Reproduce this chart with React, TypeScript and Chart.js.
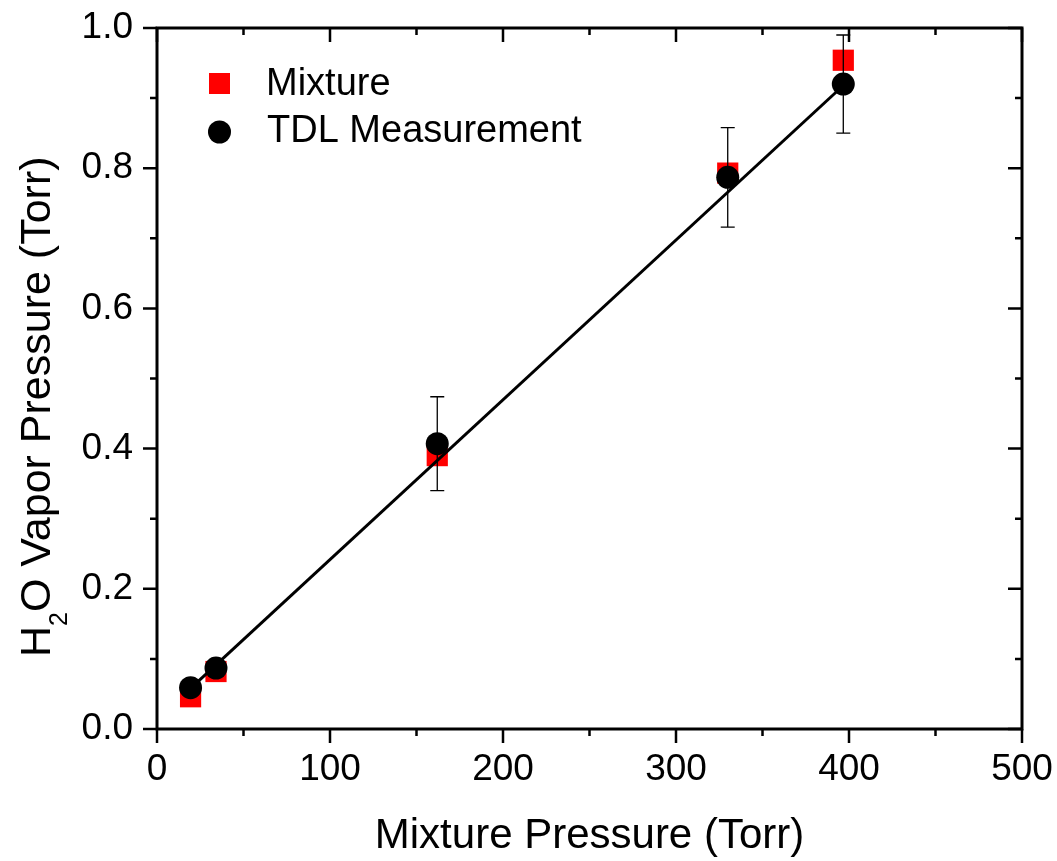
import React, { useEffect, useRef } from "react";
import { Chart, registerables } from "chart.js";

Chart.register(...registerables);

// ---- data ----
const pressures = [19.4, 34.1, 162.0, 329.9, 396.7];
const mixtureH2O = [0.046, 0.082, 0.39, 0.793, 0.954];
const tdlH2O = [0.059, 0.087, 0.407, 0.787, 0.92];
const tdlError = [0, 0, 0.067, 0.071, 0.07];
const fitX = [19.4, 396.7];
const fitY = [0.058, 0.918];
const xTicks = [0, 100, 200, 300, 400, 500];
const yTicks = [0, 0.2, 0.4, 0.6, 0.8, 1.0];
const seriesLabels = ["Mixture", "TDL Measurement"];
const xTitle = "Mixture Pressure (Torr)";
const yTitleParts = ["H", "2", "O Vapor Pressure (Torr)"];

const FONT = "'Liberation Sans', Arial, Helvetica, sans-serif";
const RED = "#ff0000";
const BLACK = "#000000";

const decorPlugin = {
  id: "decor",
  beforeDatasetDraw(chart: any, args: any) {
    if (args.index !== 1) return;
    const { ctx, scales } = chart;
    const x = scales.x;
    const y = scales.y;
    ctx.save();
    ctx.strokeStyle = BLACK;
    ctx.lineWidth = 1.3;
    pressures.forEach((p, i) => {
      const e = tdlError[i];
      if (!e) return;
      const px = x.getPixelForValue(p);
      const pt = y.getPixelForValue(tdlH2O[i] + e);
      const pb = y.getPixelForValue(tdlH2O[i] - e);
      ctx.beginPath();
      ctx.moveTo(px, pt);
      ctx.lineTo(px, pb);
      ctx.moveTo(px - 7, pt);
      ctx.lineTo(px + 7, pt);
      ctx.moveTo(px - 7, pb);
      ctx.lineTo(px + 7, pb);
      ctx.stroke();
    });
    ctx.restore();
  },
  afterDraw(chart: any) {
    const { ctx, chartArea, scales } = chart;
    const { left, right, top, bottom } = chartArea;
    const x = scales.x;
    const y = scales.y;
    ctx.save();
    ctx.strokeStyle = BLACK;
    ctx.lineCap = "butt";
    ctx.lineWidth = 2.5;
    const MAJ = 14;
    const MIN = 7;
    ctx.beginPath();
    xTicks.forEach((v, i) => {
      const px = x.getPixelForValue(v);
      ctx.moveTo(px, bottom);
      ctx.lineTo(px, bottom + MAJ);
      ctx.moveTo(px, top);
      ctx.lineTo(px, top + MAJ);
      if (i < xTicks.length - 1) {
        const m = x.getPixelForValue((v + xTicks[i + 1]) / 2);
        ctx.moveTo(m, bottom);
        ctx.lineTo(m, bottom + MIN);
        ctx.moveTo(m, top);
        ctx.lineTo(m, top + MIN);
      }
    });
    yTicks.forEach((v, i) => {
      const py = y.getPixelForValue(v);
      ctx.moveTo(left - MAJ, py);
      ctx.lineTo(left, py);
      ctx.moveTo(right - MAJ, py);
      ctx.lineTo(right, py);
      if (i < yTicks.length - 1) {
        const m = y.getPixelForValue((v + yTicks[i + 1]) / 2);
        ctx.moveTo(left - MIN, m);
        ctx.lineTo(left, m);
        ctx.moveTo(right - MIN, m);
        ctx.lineTo(right, m);
      }
    });
    ctx.stroke();
    ctx.lineWidth = 3;
    ctx.strokeRect(left, top, right - left, bottom - top);

    // legend
    ctx.fillStyle = RED;
    ctx.fillRect(209, 73, 21, 21);
    ctx.fillStyle = BLACK;
    ctx.beginPath();
    ctx.arc(219.5, 132, 11.5, 0, Math.PI * 2);
    ctx.fill();
    ctx.font = `38px ${FONT}`;
    ctx.textAlign = "left";
    ctx.textBaseline = "alphabetic";
    ctx.fillText(seriesLabels[0], 266, 95);
    ctx.fillText(seriesLabels[1], 267, 142);

    // x title
    ctx.font = `42px ${FONT}`;
    ctx.textAlign = "center";
    ctx.fillText(xTitle, (left + right) / 2, 848);

    // y title with subscript
    ctx.save();
    ctx.translate(50, 657);
    ctx.rotate(-Math.PI / 2);
    ctx.textAlign = "left";
    ctx.font = `43px ${FONT}`;
    ctx.fillText(yTitleParts[0], 0, 0);
    const wH = ctx.measureText(yTitleParts[0]).width;
    ctx.font = `25px ${FONT}`;
    ctx.fillText(yTitleParts[1], wH, 17);
    const w2 = ctx.measureText(yTitleParts[1]).width;
    ctx.font = `43px ${FONT}`;
    ctx.fillText(yTitleParts[2], wH + w2, 0);
    ctx.restore();

    ctx.restore();
  },
};

export default function App() {
  const ref = useRef<HTMLCanvasElement | null>(null);
  useEffect(() => {
    if (!ref.current) return;
    Chart.defaults.font.family = FONT;
    const chart = new Chart(ref.current, {
      type: "scatter",
      data: {
        datasets: [
          {
            label: seriesLabels[0],
            data: pressures.map((p, i) => ({ x: p, y: mixtureH2O[i] })),
            pointStyle: "rect",
            pointRadius: 15,
            pointBorderWidth: 0,
            backgroundColor: RED,
            borderColor: RED,
            order: 3,
          },
          {
            label: seriesLabels[1],
            data: pressures.map((p, i) => ({ x: p, y: tdlH2O[i] })),
            pointStyle: "circle",
            pointRadius: 11.5,
            pointBorderWidth: 0,
            backgroundColor: BLACK,
            borderColor: BLACK,
            order: 1,
          },
          {
            type: "line",
            label: "Fit",
            data: fitX.map((v, i) => ({ x: v, y: fitY[i] })),
            showLine: true,
            pointRadius: 0,
            borderWidth: 3,
            borderColor: BLACK,
            fill: false,
            order: 2,
          } as any,
        ],
      },
      options: {
        animation: false,
        responsive: false,
        devicePixelRatio: 1,
        events: [],
        layout: { padding: { top: 28, right: 35, left: 0, bottom: 0 } },
        plugins: { legend: { display: false }, tooltip: { enabled: false } },
        scales: {
          x: {
            type: "linear",
            min: 0,
            max: 500,
            afterFit: (s: any) => {
              s.height = 132;
              s.paddingLeft = 0;
              s.paddingRight = 0;
              s.paddingTop = 0;
              s.paddingBottom = 0;
            },
            afterBuildTicks: (s: any) => {
              s.ticks = xTicks.map((v) => ({ value: v }));
            },
            grid: { drawOnChartArea: false, drawTicks: false, display: false },
            border: { display: false },
            ticks: {
              padding: 19,
              color: BLACK,
              font: { size: 37, family: FONT },
              maxRotation: 0,
              callback: (v: any) => String(v),
            },
          },
          y: {
            type: "linear",
            min: 0,
            max: 1,
            afterFit: (s: any) => {
              s.width = 157;
              s.paddingLeft = 0;
              s.paddingRight = 0;
              s.paddingTop = 0;
              s.paddingBottom = 0;
            },
            afterBuildTicks: (s: any) => {
              s.ticks = yTicks.map((v) => ({ value: v }));
            },
            grid: { drawOnChartArea: false, drawTicks: false, display: false },
            border: { display: false },
            ticks: {
              padding: 24,
              color: BLACK,
              font: { size: 37, family: FONT },
              callback: (v: any) => Number(v).toFixed(1),
            },
          },
        },
      },
      plugins: [decorPlugin],
    } as any);
    return () => chart.destroy();
  }, []);
  return (
    <div style={{ position: "absolute", left: 0, top: 0, width: 1057, height: 861, background: "#fff" }}>
      <canvas ref={ref} width={1057} height={861} />
    </div>
  );
}
